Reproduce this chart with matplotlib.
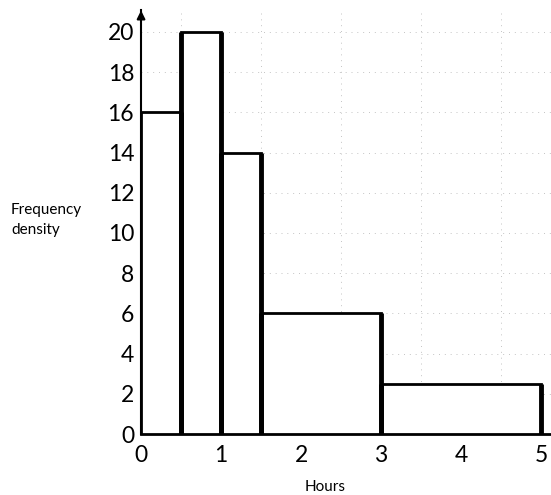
import numpy as np
import matplotlib
matplotlib.use("Agg")
from matplotlib import pyplot as plt

# class boundaries (hours) and frequency densities
lower = [0, 0.5, 1, 1.5, 3]
upper = [0.5, 1, 1.5, 3, 5]
density = [16, 20, 14, 6, 2.5]

xticks = [0, 1, 2, 3, 4, 5]
yticks = [0, 2, 4, 6, 8, 10, 12, 14, 16, 18, 20]

plt.rcParams['font.family'] = ['Lato', 'DejaVu Sans']

fig = plt.figure(figsize=(5.51, 4.95), dpi=100)
ax = fig.add_axes([0.256, 0.1232, 0.744, 0.857])

left = np.array(lower)
width = np.array(upper) - left
ax.bar(left, density, width=width, align='edge', color='white',
       edgecolor='black', linewidth=2.0, zorder=3)
# heavier pen strokes on the vertical sides
ax.vlines(upper, 0, density, color='black', linewidth=3.5, zorder=4)
ax.vlines(lower[1:], 0, density[1:], color='black', linewidth=3.5, zorder=4)

# faint dotted squared paper
ax.set_xticks(np.arange(0, 5.01, 0.5), minor=True)
ax.set_yticks(yticks)
ax.grid(which='minor', axis='x', color='#c4c4c4', linestyle=(0, (1, 5)), linewidth=0.7)
ax.grid(which='major', axis='y', color='#c4c4c4', linestyle=(0, (1, 5)), linewidth=0.7)

ax.set_xlim(0, 5.125)
ax.set_ylim(0, 21.1)
ax.set_xticks(xticks)
ax.set_xticklabels([str(t) for t in xticks], fontsize=16.5)
ax.set_yticklabels([str(t) for t in yticks], fontsize=16.5)
ax.tick_params(which='both', length=0, pad=5)
ax.tick_params(axis='x', pad=8)

for s in ['top', 'right']:
    ax.spines[s].set_visible(False)
ax.spines['left'].set_linewidth(1.5)
ax.spines['bottom'].set_linewidth(2)

# arrow head on the y axis
ax.annotate('', xy=(0, 1.005), xytext=(0, 0.97), xycoords='axes fraction',
            arrowprops=dict(arrowstyle='-|>', color='black', lw=1.5,
                            mutation_scale=12))

fig.text(0.02, 0.556, 'Frequency\ndensity', fontsize=11, ha='left', va='center',
         linespacing=1.5)
fig.text(0.59, 0.003, 'Hours', fontsize=11, ha='center', va='bottom')

plt.savefig('out.png', dpi=100)
